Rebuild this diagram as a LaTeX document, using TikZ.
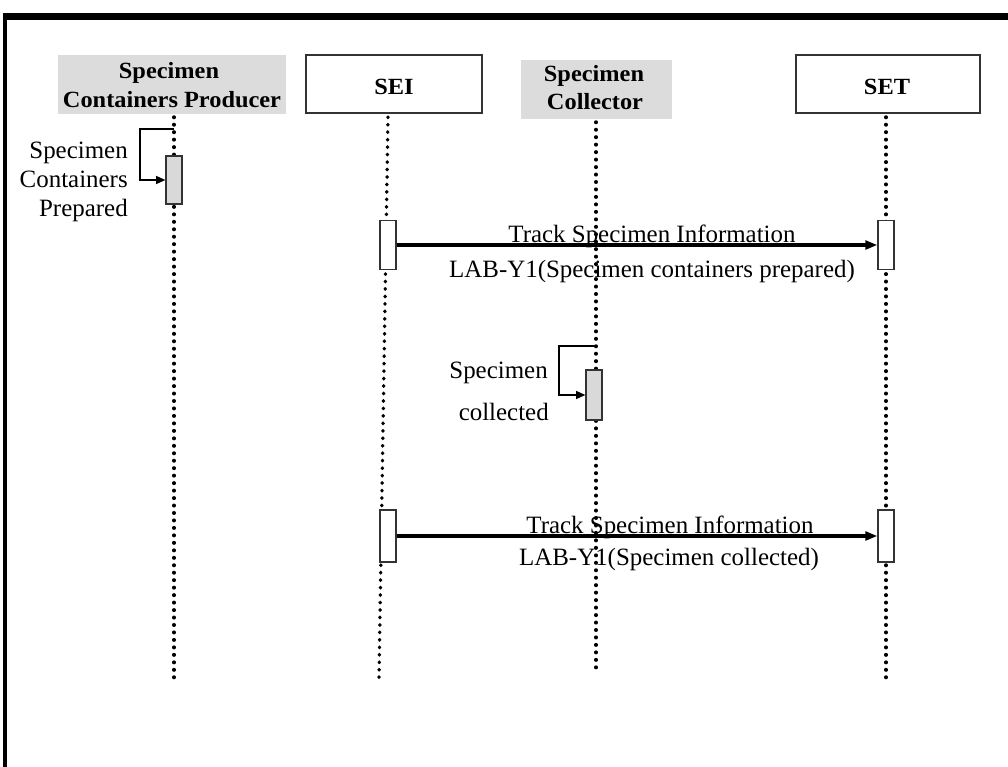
\documentclass[tikz,border=0pt]{standalone}
\usepackage{fontspec}
\setmainfont{Liberation Serif}
\newfontfamily\hdrfont{Liberation Serif}[FakeStretch=1.05]
\usetikzlibrary{arrows.meta}
\definecolor{hdrgrey}{RGB}{220,220,220}
\definecolor{actgrey}{RGB}{217,217,217}
\tikzset{
  hdrbox/.style={draw=black!80, line width=0.9pt, fill=white, inner sep=0pt},
  hdrgreybox/.style={fill=hdrgrey, inner sep=0pt},
  hdrtext/.style={inner sep=0pt, anchor=base, font=\hdrfont\bfseries\fontsize{17.4}{21}\selectfont},
  actbox/.style={draw=black!80, line width=0.9pt, fill=white, inner sep=0pt, minimum width=12pt},
  actgreybox/.style={actbox, fill=actgrey},
  lifeline/.style={line width=2.6pt, line cap=round, dash pattern=on 0.4pt off 5.2pt},
  msgarrow/.style={line width=2.3pt, -{Triangle[length=9pt,width=6.5pt]}},
  selfarrow/.style={line width=1.1pt, -{Triangle[length=7pt,width=6pt]}},
  lbl/.style={inner sep=0pt, font=\fontsize{18.7}{22}\selectfont},
}
\begin{document}
\begin{tikzpicture}[x=0.75pt, y=-0.75pt]
\useasboundingbox (0,0) rectangle (1008,767);
% frame
\draw[line width=5.25pt] (3,16.5) -- (1008,16.5);
\draw[line width=3pt] (5,14) -- (5,767);

% headers
\node[hdrgreybox, minimum width=171pt, minimum height=44.25pt] (prod) at (172,84.5) {};
\node[hdrtext] (prodt1) at (169,79) {Specimen};
\node[hdrtext] (prodt2) at (172,108) {Containers Producer};
\node[hdrbox, minimum width=132pt, minimum height=43.5pt] (sei) at (394,84) {};
\node[hdrtext] (seit) at (394,95) {SEI};
\node[hdrgreybox, minimum width=113.25pt, minimum height=44.25pt] (coll) at (596.5,89.5) {};
\node[hdrtext] (collt1) at (594,82) {Specimen};
\node[hdrtext] (collt2) at (595,110) {Collector};
\node[hdrbox, minimum width=138pt, minimum height=43.5pt] (set) at (888,84) {};
\node[hdrtext] (sett) at (887,95) {SET};

% lifeline ends
\coordinate (p0) at (174,117);
\coordinate (p1) at (174,678);
\coordinate (s0) at (388,117);
\coordinate (s1) at (379,678);
\coordinate (c0) at (596,122);
\coordinate (c1) at (596,672);
\coordinate (t0) at (886,117);
\coordinate (t1) at (886,678);
\draw[lifeline] (p0) -- (p1);
\draw[lifeline] (s0) -- (s1);
\draw[lifeline] (c0) -- (c1);
\draw[lifeline] (t0) -- (t1);

% producer self message
\node[actgreybox, minimum height=36pt] (pact) at (174,180) {};
\coordinate (pl0) at (174,129);
\coordinate (pl1) at (140,129);
\draw[selfarrow] (pl0) -- (pl1) |- (pact.west);
\node[lbl, anchor=base east] (pt1) at (128,158) {Specimen};
\node[lbl, anchor=base east] (pt2) at (128,188) {Containers};
\node[lbl, anchor=base east] (pt3) at (128,216) {Prepared};

% first message
\node[actbox, minimum height=36.75pt] (sact1) at (388,245) {};
\node[actbox, minimum height=36.75pt] (tact1) at (886,245) {};
\draw[msgarrow] (sact1.east) -- (tact1.west);
\node[lbl, anchor=base] (m1a) at (652,242) {Track Specimen Information};
\node[lbl, anchor=base] (m1b) at (652,277) {LAB-Y1(Specimen containers prepared)};

% collector self message
\node[actgreybox, minimum height=37.5pt] (cact) at (594,395) {};
\coordinate (cl0) at (596,346);
\coordinate (cl1) at (559,346);
\draw[selfarrow] (cl0) -- (cl1) |- (cact.west);
\node[lbl, anchor=base east] (ct1) at (548,378) {Specimen};
\node[lbl, anchor=base east] (ct2) at (549,420) {collected};

% second message
\node[actbox, minimum height=39pt] (sact2) at (388,536) {};
\node[actbox, minimum height=39pt] (tact2) at (886,536) {};
\draw[msgarrow] (sact2.east) -- (tact2.west);
\node[lbl, anchor=base] (m2a) at (670,533) {Track Specimen Information};
\node[lbl, anchor=base] (m2b) at (669,565) {LAB-Y1(Specimen collected)};
\end{tikzpicture}
\end{document}
